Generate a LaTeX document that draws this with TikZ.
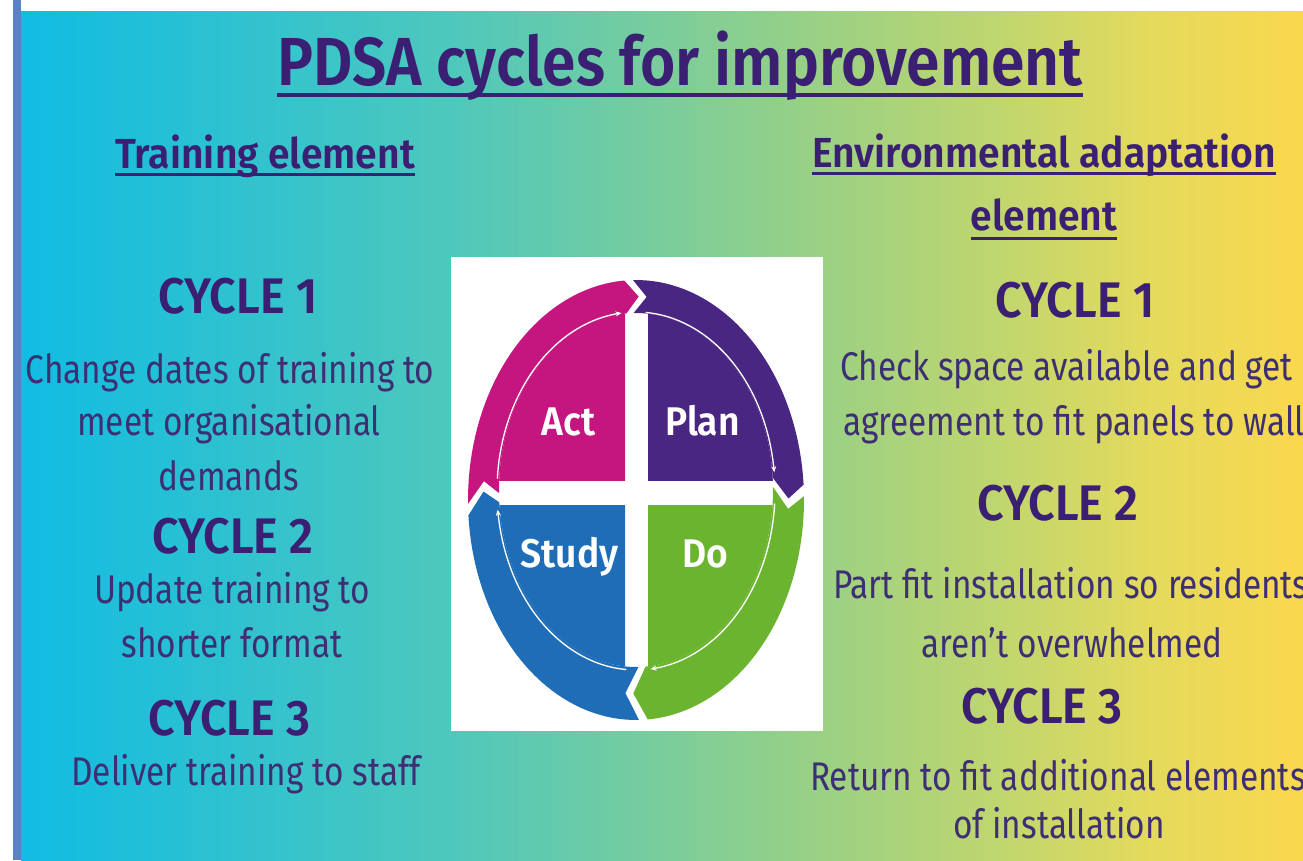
\documentclass[tikz,border=0pt]{standalone}
\usepackage{fontspec}
\setmainfont{Fira Sans}
\newfontfamily\bodyf[FakeStretch=0.835]{Fira Sans}
\newfontfamily\headf[FakeStretch=0.93, BoldFont={Fira Sans SemiBold}, BoldFeatures={FakeStretch=0.93}]{Fira Sans}
\newfontfamily\titlef[FakeStretch=0.89, BoldFont={Fira Sans SemiBold}, BoldFeatures={FakeStretch=0.89}]{Fira Sans}
\usetikzlibrary{arrows.meta}
\definecolor{ink}{HTML}{3A1F73}
\definecolor{bodyc}{HTML}{3E2F74}
\definecolor{cA}{HTML}{C5157F}
\definecolor{cP}{HTML}{4A2683}
\definecolor{cD}{HTML}{6BB42F}
\definecolor{cS}{HTML}{1E6DB6}
\definecolor{barblue}{HTML}{5A82C2}
\definecolor{g0}{RGB}{16,188,227}
\definecolor{g1}{RGB}{78,200,188}
\definecolor{g2}{RGB}{150,208,135}
\definecolor{g3}{RGB}{192,214,110}
\definecolor{g4}{RGB}{228,218,92}
\definecolor{g5}{RGB}{250,216,78}
\newcommand\pdsaarrow[3]{%
  \fill[#1] plot[domain={#2-1}:{#3-4}, variable=\t, samples=40] ({636+168*cos(\t)},{500+220*sin(\t)})
    -- ({636+152.5*cos(#3+1)},{495+198.5*sin(#3+1)})
    -- plot[domain={#3-4}:{#2-1}, variable=\t, samples=40] ({636+137*cos(\t)},{490+177*sin(\t)})
    -- ({636+152.5*cos(#2+4)},{495+198.5*sin(#2+4)}) -- cycle;}
\newcommand\pdsathin[2]{%
  \draw[white, line width=1.3pt, -{Stealth[length=6pt,width=5pt]}] plot[domain={#1+4}:{#2-6}, variable=\t, samples=40] ({636+139*cos(\t)},{491+179*sin(\t)});}
\begin{document}
\begin{tikzpicture}[x=1pt,y=-1pt,
  txt/.style={inner sep=0pt, anchor=base, text=bodyc, font=\bodyf\fontsize{40}{48}\selectfont},
  txtw/.style={txt, anchor=base west},
  head/.style={inner sep=0pt, anchor=base, text=ink, font=\headf\bfseries\fontsize{42}{50}\selectfont},
  cyc/.style={inner sep=0pt, anchor=base, text=ink, font=\headf\bfseries\fontsize{50}{60}\selectfont},
  lab/.style={inner sep=0pt, anchor=base, text=white, font=\headf\bfseries\fontsize{40}{48}\selectfont},
  ul/.style={draw=ink, line width=3pt}]
\useasboundingbox (0,0) rectangle (1303,860);
\clip (0,0) rectangle (1303,860);
\fill[white] (0,0) rectangle (1303,860);
\fill[barblue] (13,0) rectangle (20.5,860);
\shade[left color=g0,right color=g1] (21,11) rectangle (451,860);
\shade[left color=g1,right color=g2] (450.5,11) rectangle (800,860);
\shade[left color=g2,right color=g3] (799.5,11) rectangle (1000,860);
\shade[left color=g3,right color=g4] (999.5,11) rectangle (1150,860);
\shade[left color=g4,right color=g5] (1149.5,11) rectangle (1303,860);
% PDSA picture
\fill[white] (451,257) rectangle (823,731);
\begin{scope}\clip (451,257) rectangle (625,480);
  \fill[cA] (636,490) ellipse [x radius=137pt, y radius=177pt];\end{scope}
\begin{scope}\clip (648,257) rectangle (823,480);
  \fill[cP] (636,490) ellipse [x radius=137pt, y radius=177pt];\end{scope}
\begin{scope}\clip (451,505) rectangle (625,731);
  \fill[cS] (636,490) ellipse [x radius=137pt, y radius=177pt];\end{scope}
\begin{scope}\clip (648,505) rectangle (823,731);
  \fill[cD] (636,490) ellipse [x radius=137pt, y radius=177pt];\end{scope}
\pdsaarrow{cA}{180}{270}
\pdsaarrow{cP}{270}{360}
\pdsaarrow{cD}{360}{450}
\pdsaarrow{cS}{90}{180}
\pdsathin{180}{270}
\pdsathin{270}{360}
\pdsathin{360}{450}
\pdsathin{90}{180}
\node[lab] (act) at (568.5,435) {Act};
\node[lab] (plan) at (702.5,435) {Plan};
\node[lab] (study) at (569.5,567) {Study};
\node[lab] (do) at (705,567) {Do};
% title
\node[inner sep=0pt, anchor=base, text=ink, font=\titlef\bfseries\fontsize{68}{80}\selectfont] (title) at (680,85) {PDSA cycles for improvement};
\draw[ul, line width=4.5pt] ([yshift=-10pt]title.base west) -- ([yshift=-10pt]title.base east);
% left column
\node[head] (lh) at (265,168) {Training element};
\draw[ul] ([yshift=-6pt]lh.base west) -- ([yshift=-6pt]lh.base east);
\node[cyc] (lc1) at (238,313) {CYCLE 1};
\node[txt] (l1a) at (230,383) {Change dates of training to};
\node[txt] (l1b) at (229,435) {meet organisational};
\node[txt] (l1c) at (229,490) {demands};
\node[cyc] (lc2) at (233,553) {CYCLE 2};
\node[txt] (l2a) at (232,603) {Update training to};
\node[txt] (l2b) at (232,657) {shorter format};
\node[cyc] (lc3) at (229.5,735) {CYCLE 3};
\node[txt] (l3a) at (246,785) {Deliver training to staff};
% right column
\node[head] (rh1) at (1044,167) {Environmental adaptation};
\draw[ul] ([yshift=-6pt]rh1.base west) -- ([yshift=-6pt]rh1.base east);
\node[head] (rh2) at (1044,230) {element};
\draw[ul] ([yshift=-8pt]rh2.base west) -- ([yshift=-8pt]rh2.base east);
\node[cyc] (rc1) at (1075,317) {CYCLE 1};
\node[txtw] (r1a) at (840,380) {Check space available and get};
\node[txtw] (r1b) at (843,435) {agreement to fit panels to wall};
\node[cyc] (rc2) at (1058,520) {CYCLE 2};
\node[txtw] (r2a) at (833,598) {Part fit installation so residents};
\node[txt] (r2b) at (1072,657) {aren’t overwhelmed};
\node[cyc] (rc3) at (1042,723) {CYCLE 3};
\node[txtw] (r3a) at (810,790) {Return to fit additional elements};
\node[txt] (r3b) at (1059,838) {of installation};
\end{tikzpicture}
\end{document}
